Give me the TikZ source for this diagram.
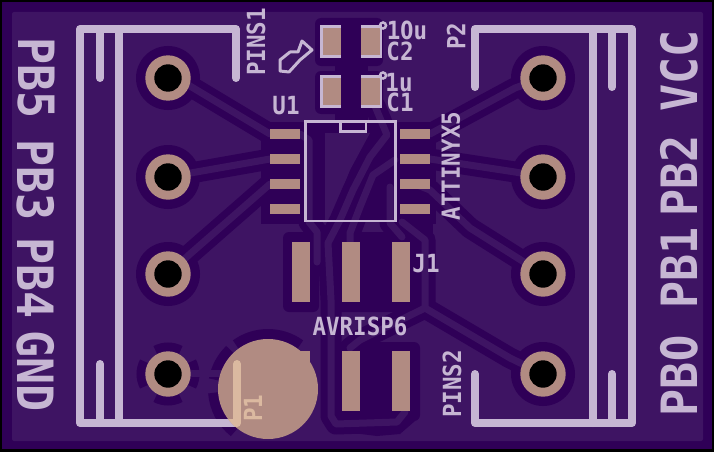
\documentclass[tikz,border=0pt]{standalone}
\usepackage{fontspec}
\newfontfamily\silkfont[FakeStretch=0.9]{DejaVu Sans Mono}
\newfontfamily\zerofont[FakeStretch=0.75]{DejaVu Sans}
\definecolor{pour}{HTML}{3E1463}
\definecolor{gap}{HTML}{2F0057}
\definecolor{silk}{HTML}{C6B6D3}
\definecolor{copper}{HTML}{B18B82}
\definecolor{pale}{HTML}{DBB9A0}
\tikzset{
  gapline/.style={draw=gap,line width=21pt,line join=round,line cap=round},
  wire/.style={draw=pour,line width=7pt,line join=round,line cap=round},
  silkline/.style={draw=silk,line width=8pt,line cap=round,line join=round},
  thinsilk/.style={draw=silk,line width=2.5pt},
  smalltext/.style={text=silk,font=\silkfont\bfseries\fontsize{25}{25}\selectfont,inner sep=0pt},
  bigtext/.style={text=silk,font=\silkfont\bfseries\fontsize{50}{50}\selectfont,inner sep=0pt}
}
% all the tracks, drawn once for the gap and once for the copper
\newcommand{\tracks}[1]{
\draw[#1] (168,78) -- (190,86) -- (270,134);
\draw[#1] (168,177) -- (270,159);
\draw[#1] (168,274) -- (190,254) -- (270,184);
\draw[#1] (543,78) -- (515,88) -- (430,134);
\draw[#1] (543,177) -- (515,172) -- (430,159);
\draw[#1] (543,274) -- (470,228) -- (430,190) -- (415,184);
\draw[#1] (543,374) -- (510,358) -- (425,308) -- (425,240) -- (402,222);
\draw[#1] (375,106) -- (387,135) -- (370,157) -- (353,190) -- (340,220) -- (328,243) -- (331,300) -- (331,416) -- (336,424) -- (397,422) -- (405,412);
\draw[#1] (395,160) -- (373,175) -- (360,207) -- (350,233) -- (350,243);
\draw[#1] (390,187) -- (390,223) -- (402,237);
\draw[#1] (300,134) -- (309,140) -- (309,222) -- (317,232) -- (317,262);
\draw[#1] (350,348) -- (360,340) -- (425,308);
}
\begin{document}
\begin{tikzpicture}[x=1pt,y=-1pt]
\useasboundingbox (0,0) rectangle (714,452);
\fill[black] (0,0) rectangle (714,452);
\fill[gap] (2,2) rectangle (712,449);
\fill[pour,rounded corners=2pt] (12,12) rectangle (703,441);

% clearances
\fill[gap,rounded corners=6pt] (315,18) rectangle (383,66);
\fill[gap,rounded corners=6pt] (315,71) rectangle (383,114);
\fill[gap] (335,60) rectangle (368,122);
\fill[gap] (261,122) rectangle (304,224);
\fill[gap] (397,122) rectangle (436,224);
\fill[gap] (304,122) rectangle (397,222);
\fill[gap] (397,222) rectangle (433,240);
\fill[pour] (325,133) -- (370,133) -- (350,170) -- (330,220) -- (325,220) -- cycle;
\fill[gap,rounded corners=6pt] (283,232) rectangle (319,312);
\fill[gap,rounded corners=6pt] (333,232) rectangle (419,312);
\fill[gap,rounded corners=6pt] (335,342) rectangle (420,421);
\fill[gap] (337,421) -- (415,421) -- (400,434) -- (377,436) -- (345,432) -- cycle;
\tracks{gapline}
% ring round the big round pad
\foreach \a/\b in {128/176,190/226,234/306}{
  \draw[gap,line width=10pt] ({268+55*cos(\a)},{389+55*sin(\a)}) arc[start angle=\a,end angle=\b,radius=55];
}
\foreach \y in {78,177,274}{
  \fill[gap] (168,\y) circle (32);
  \fill[gap] (543,\y) circle (32);
}
\fill[gap] (543,374) circle (32);
% thermal ring of the ground pin
\foreach \a in {0,90,180,270}{
  \draw[gap,line width=9pt] ({168+27*cos(\a-28)},{374+27*sin(\a-28)}) arc[start angle=\a-28,end angle=\a+28,radius=27];
}
\tracks{wire}
\draw[wire] (192,373) -- (225,373);

% pads
\foreach \y in {78,177,274,374}{
  \fill[copper] (168,\y) circle (22.7);
  \fill[black] (168,\y) circle (13.7);
  \fill[copper] (543,\y) circle (22.7);
  \fill[black] (543,\y) circle (13.7);
}
\foreach \y in {129,154,179,204}{
  \fill[copper] (270,\y) rectangle (300,\y+10);
  \fill[copper] (400,\y) rectangle (430,\y+10);
}
\foreach \y in {27,77}{
  \fill[copper] (323,\y) rectangle (341,\y+29);
  \fill[copper] (361,\y) rectangle (380,\y+29);
}
\foreach \x in {292,342,392}
  \fill[copper] (\x,242) rectangle (\x+18,302);
\foreach \x in {292,342,392}
  \fill[copper] (\x,351) rectangle (\x+18,411);

% headers
\draw[silkline] (236,78) -- (236,29) -- (80,29) -- (80,423) -- (237,423) -- (237,364);
\draw[silkline] (119,29) -- (119,423);
\draw[silkline] (100,29) -- (100,78);
\draw[silkline] (100,364) -- (100,423);
\draw[silkline] (475,87) -- (475,29) -- (632,29) -- (632,423) -- (475,423) -- (475,374);
\draw[silkline] (593,29) -- (593,423);
\draw[silkline] (612,29) -- (612,87);
\draw[silkline] (612,374) -- (612,423);

\fill[copper] (268,389) circle (50);
\fill[copper] (292,351) rectangle (310,380);
\begin{scope}
\clip (268,389) circle (50);
\draw[silkline,draw=pale] (237,364) -- (237,423) -- (200,423);
\end{scope}

% chip and caps
\draw[thinsilk] (305.5,121.5) rectangle (395.5,221);
\draw[thinsilk] (340.5,121.5) -- (340.5,131.5) -- (366,131.5) -- (366,121.5);
\foreach \y in {26.5,76.5}{
  \draw[thinsilk] (341,\y) -- (321.5,\y) -- (321.5,\y+30) -- (341,\y+30);
  \draw[thinsilk] (361,\y) -- (381,\y) -- (381,\y+30) -- (361,\y+30);
  \draw[thinsilk] (383,\y-1) circle (3);
}
\draw[silk,line width=3pt,line join=round] (280,60) -- (280,71) -- (289,72) -- (300,60) -- (312,50) -- (302,41) -- (298,52) -- (290,52) -- cycle;

% small labels
\node[smalltext] (val2) at (407,30) {1{\zerofont\bfseries 0}u};
\node[smalltext] (ref2) at (400,51) {C2};
\node[smalltext] (val1) at (399,83) {1u};
\node[smalltext] (ref1) at (400,102) {C1};
\node[smalltext] (chipref) at (286,106) {U1};
\node[smalltext,rotate=90] (pinsa) at (256,42) {PINS1};
\node[smalltext,rotate=90] (pref) at (456,36) {P2};
\node[smalltext,rotate=90] (chipval) at (451,166) {ATTINYX5};
\node[smalltext] (jref) at (426,264) {J1};
\node[smalltext] (jval) at (360,326) {AVRISP6};
\node[smalltext,rotate=90] (pinsb) at (452,384) {PINS2};
\node[smalltext,rotate=90,text=pale] (oneref) at (253,408) {P1};

% pin names
\node[bigtext,rotate=-90] (pba) at (36,78) {PB5};
\node[bigtext,rotate=-90] (pbb) at (36,180) {PB3};
\node[bigtext,rotate=-90] (pbc) at (36,278) {PB4};
\node[bigtext,rotate=-90] (gnd) at (36,371) {GND};
\node[bigtext,rotate=90] (vcc) at (679,71) {VCC};
\node[bigtext,rotate=90] (pbd) at (679,176) {PB2};
\node[bigtext,rotate=90] (pbe) at (679,268) {PB1};
\node[bigtext,rotate=90] (pbf) at (679,376) {PB{\zerofont\bfseries 0}};
\end{tikzpicture}
\end{document}
